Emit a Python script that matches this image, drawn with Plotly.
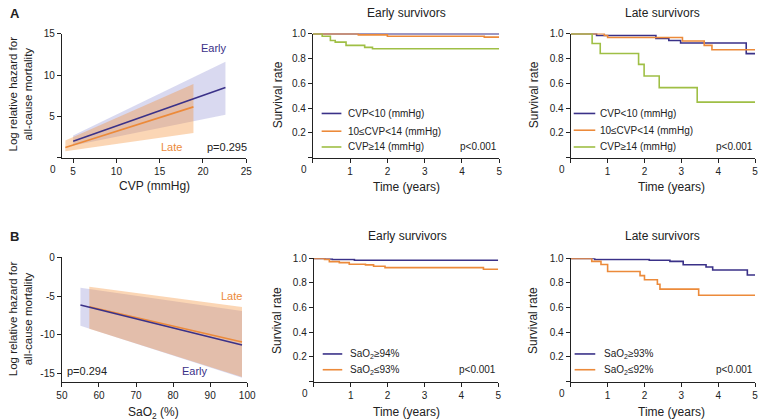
import plotly.graph_objects as go

# ---------------- data ----------------
# Panel A left: log relative hazard vs CVP (linear fit + CI band)
cvp_early_x = [5.0, 22.6]
cvp_early_fit = [2.0, 8.5]
cvp_early_lo = [1.5, 5.2]
cvp_early_hi = [2.7, 11.6]
cvp_late_x = [4.1, 18.9]
cvp_late_fit = [1.25, 6.15]
cvp_late_lo = [0.8, 3.0]
cvp_late_hi = [2.1, 8.9]

# Panel B left: log relative hazard vs SaO2
sao_early_x = [55.0, 98.6]
sao_early_fit = [-6.15, -11.3]
sao_early_lo = [-8.8, -15.5]
sao_early_hi = [-3.9, -6.9]
sao_late_x = [57.4, 98.6]
sao_late_fit = [-6.36, -10.9]
sao_late_lo = [-9.2, -15.4]
sao_late_hi = [-3.8, -6.4]

# Panel A middle: early survivors by CVP
a_early_lt10_t = [0, 5]
a_early_lt10_s = [1.0, 1.0]
a_early_mid_t = [0, 1.22, 2.0, 4.6, 5]
a_early_mid_s = [1.0, 0.99, 0.979, 0.972, 0.972]
a_early_ge14_t = [0, 0.25, 0.47, 0.6, 0.89, 1.39, 1.6, 5]
a_early_ge14_s = [1.0, 0.979, 0.944, 0.931, 0.905, 0.889, 0.878, 0.878]

# Panel A right: late survivors by CVP
a_late_lt10_t = [0, 0.7, 2.31, 2.66, 2.98, 4.76, 5]
a_late_lt10_s = [1.0, 0.985, 0.96, 0.944, 0.924, 0.839, 0.839]
a_late_mid_t = [0, 0.91, 1.0, 3.03, 3.62, 3.83, 5]
a_late_mid_s = [1.0, 0.985, 0.968, 0.94, 0.905, 0.87, 0.87]
a_late_ge14_t = [0, 0.58, 0.8, 1.84, 1.99, 2.4, 3.43, 5]
a_late_ge14_s = [1.0, 0.92, 0.84, 0.752, 0.659, 0.565, 0.448, 0.448]

# Panel B middle: early survivors by SaO2
b_early_hi_t = [0, 0.3, 0.5, 1.1, 5]
b_early_hi_s = [1.0, 0.995, 0.99, 0.984, 0.984]
b_early_lo_t = [0, 0.29, 0.42, 0.69, 0.96, 1.4, 1.62, 1.93, 4.6, 5]
b_early_lo_s = [1.0, 0.992, 0.973, 0.965, 0.952, 0.947, 0.936, 0.925, 0.912, 0.912]

# Panel B right: late survivors by SaO2
b_late_hi_t = [0, 0.65, 2.13, 2.69, 3.05, 3.67, 3.85, 4.79, 5]
b_late_hi_s = [1.0, 0.99, 0.985, 0.975, 0.948, 0.93, 0.905, 0.865, 0.865]
b_late_lo_t = [0, 0.57, 0.82, 1.0, 1.88, 2.0, 2.35, 2.42, 3.47, 5]
b_late_lo_s = [1.0, 0.975, 0.95, 0.893, 0.86, 0.826, 0.79, 0.75, 0.70, 0.70]

cvp_legend = ["CVP&lt;10 (mmHg)", "10≤CVP&lt;14 (mmHg)", "CVP≥14 (mmHg)"]
sao_early_legend = ["SaO<sub>2</sub>≥94%", "SaO<sub>2</sub>≤93%"]
sao_late_legend = ["SaO<sub>2</sub>≥93%", "SaO<sub>2</sub>≤92%"]
p_values = ["p=0.295", "p&lt;0.001", "p&lt;0.001", "p=0.294", "p&lt;0.001", "p&lt;0.001"]

# ---------------- styles ----------------
NAVY = "#3a3188"
ORANGE = "#ec8a3a"
GREEN = "#9fbf45"
EARLY_FILL = "rgba(140,140,210,0.33)"
LATE_FILL = "rgba(245,140,50,0.36)"
FONT = "Liberation Sans, Arial, sans-serif"
TXT = "#222222"
W, H = 768, 420


def px(x):
    return x / W


def py(y):
    return 1 - y / H


fig = go.Figure()

# domains (pixels)
dom = {
    1: ((57, 245), (28, 154)),
    2: ((313, 503), (28, 154)),
    3: ((576, 764), (28, 154)),
    4: ((57, 246), (255, 381)),
    5: ((314, 502), (256, 381)),
    6: ((576, 764), (256, 381)),
}


def band(n, xs, lo, hi, fill):
    ax = "" if n == 1 else str(n)
    fig.add_trace(go.Scatter(
        x=list(xs) + list(xs)[::-1], y=list(hi) + list(lo)[::-1],
        fill="toself", fillcolor=fill, line=dict(width=0),
        mode="lines", hoverinfo="skip", showlegend=False,
        xaxis="x" + ax, yaxis="y" + ax))


def line(n, xs, ys, color, shape="linear", width=1.6):
    ax = "" if n == 1 else str(n)
    fig.add_trace(go.Scatter(
        x=xs, y=ys, mode="lines", line=dict(color=color, width=width, shape=shape),
        cliponaxis=False, showlegend=False, xaxis="x" + ax, yaxis="y" + ax))


# Panel A left
band(1, cvp_early_x, cvp_early_lo, cvp_early_hi, EARLY_FILL)
band(1, cvp_late_x, cvp_late_lo, cvp_late_hi, LATE_FILL)
line(1, cvp_early_x, cvp_early_fit, NAVY)
line(1, cvp_late_x, cvp_late_fit, ORANGE)

# Panel A middle
line(2, a_early_lt10_t, a_early_lt10_s, NAVY, "hv")
line(2, a_early_mid_t, a_early_mid_s, ORANGE, "hv")
line(2, a_early_ge14_t, a_early_ge14_s, GREEN, "hv")

# Panel A right
line(3, a_late_lt10_t, a_late_lt10_s, NAVY, "hv")
line(3, a_late_mid_t, a_late_mid_s, ORANGE, "hv")
line(3, a_late_ge14_t, a_late_ge14_s, GREEN, "hv")

# Panel B left
band(4, sao_early_x, sao_early_lo, sao_early_hi, EARLY_FILL)
band(4, sao_late_x, sao_late_lo, sao_late_hi, LATE_FILL)
line(4, sao_late_x, sao_late_fit, ORANGE)
line(4, sao_early_x, sao_early_fit, NAVY)

# Panel B middle
line(5, b_early_hi_t, b_early_hi_s, NAVY, "hv")
line(5, b_early_lo_t, b_early_lo_s, ORANGE, "hv")

# Panel B right
line(6, b_late_hi_t, b_late_hi_s, NAVY, "hv")
line(6, b_late_lo_t, b_late_lo_s, ORANGE, "hv")

axis_common = dict(showline=True, linecolor=TXT, linewidth=1.2, ticks="outside",
                   ticklen=4, tickwidth=1.1, tickcolor=TXT, showgrid=False,
                   zeroline=False, tickfont=dict(size=10, color=TXT, family=FONT),
                   fixedrange=True)
zero_tick = dict(tickmode="array", tickvals=[0], ticks="outside", ticklen=4,
                 tickwidth=1.1, tickcolor=TXT, showgrid=False)

layout = {}
# (x range, x ticks, x has zero tick mark, y range, y ticks, y has zero tick mark)
ranges = {
    1: ([3.7, 25], [5, 10, 15, 20, 25], False, [0, 15], [5, 10, 15], True),
    2: ([0, 5], [1, 2, 3, 4, 5], True, [0, 1], [0.2, 0.4, 0.6, 0.8, 1.0], True),
    4: ([50, 100], [50, 60, 70, 80, 90, 100], False, [-16, 0], [-15, -10, -5, 0], False),
}
ranges[3] = ranges[2]
ranges[5] = ranges[2]
ranges[6] = ranges[2]

for n in range(1, 7):
    (x0, x1), (y0, y1) = dom[n]
    xr, xtv, xz, yr, ytv, yz = ranges[n]
    ax = "" if n == 1 else str(n)
    xa = dict(axis_common, domain=[px(x0), px(x1)], range=xr, tickvals=xtv,
              ticktext=[("%.1f" % v) if isinstance(v, float) else str(v) for v in xtv],
              anchor="y" + ax)
    ya = dict(axis_common, domain=[py(y1), py(y0)], range=yr, tickvals=ytv,
              ticktext=[("%.1f" % v) if isinstance(v, float) else str(v) for v in ytv],
              anchor="x" + ax)
    if xz:
        xa["minor"] = zero_tick
    if yz:
        ya["minor"] = zero_tick
    layout["xaxis" + ax] = xa
    layout["yaxis" + ax] = ya

ann = []


def text(x, y, s, size=11, color=TXT, xanchor="center", yanchor="middle", angle=0,
         xref="paper", yref="paper", bold=False):
    if bold:
        s = "<b>" + s + "</b>"
    ann.append(dict(x=x, y=y, text=s, xref=xref, yref=yref, showarrow=False,
                    xanchor=xanchor, yanchor=yanchor, textangle=angle,
                    font=dict(size=size, color=color, family=FONT)))


# panel letters
text(px(2), py(8), "A", size=13, xanchor="left", bold=True)
text(px(2), py(234), "B", size=13, xanchor="left", bold=True)

# titles
text(px(408), py(7), "Early survivors", size=12)
text(px(670), py(7), "Late survivors", size=12)
text(px(409), py(233), "Early survivors", size=12)
text(px(670), py(233), "Late survivors", size=12)

# x-axis titles
text(px(151), py(183), "CVP (mmHg)", size=12)
text(px(408), py(184), "Time (years)", size=12)
text(px(679), py(184), "Time (years)", size=12)
text(px(150), py(413), "SaO<sub>2</sub> (%)", size=12)
text(px(408), py(412), "Time (years)", size=12)
text(px(679), py(412), "Time (years)", size=12)

# y-axis titles
text(px(15), py(89), "Log relative hazard for<br>all-cause mortality", size=11.5, angle=-90)
text(px(15), py(317), "Log relative hazard for<br>all-cause mortality", size=11.5, angle=-90)
text(px(277), py(90), "Survival rate", size=12, angle=-90)
text(px(538), py(90), "Survival rate", size=12, angle=-90)
text(px(277), py(319), "Survival rate", size=12, angle=-90)
text(px(538), py(319), "Survival rate", size=12, angle=-90)

# corner zeros
text(px(48), py(166), "0", size=10)
text(px(304), py(166), "0", size=10)
text(px(567), py(166), "0", size=10)
text(px(305), py(393), "0", size=10)
text(px(567), py(393), "0", size=10)

# panel-A left annotations
text(21.25, 13.2, "Early", size=11, color=NAVY, xref="x", yref="y")
text(16.4, 1.3, "Late", size=11, color=ORANGE, xref="x", yref="y")
text(22.8, 1.3, p_values[0], size=11, xref="x", yref="y")
# panel-B left annotations
text(95.8, -4.96, "Late", size=11, color=ORANGE, xref="x4", yref="y4")
text(86.0, -14.6, "Early", size=11, color=NAVY, xref="x4", yref="y4")
text(56.9, -14.6, p_values[3], size=11, xref="x4", yref="y4")

shapes = []


def legend(n, labels, colors, sx0, sx1, tx, rows):
    ax = str(n)
    for lab, col, ry in zip(labels, colors, rows):
        shapes.append(dict(type="line", xref="x%s domain" % ax, yref="y%s domain" % ax,
                           x0=sx0, x1=sx1, y0=ry, y1=ry,
                           line=dict(color=col, width=1.6)))
        text(tx, ry, lab, size=10, xanchor="left", xref="x%s domain" % ax,
             yref="y%s domain" % ax)


legend(2, cvp_legend, [NAVY, ORANGE, GREEN], 0.047, 0.153, 0.18, [0.357, 0.214, 0.087])
legend(3, cvp_legend, [NAVY, ORANGE, GREEN], 0.016, 0.133, 0.15, [0.357, 0.222, 0.087])
legend(5, sao_early_legend, [NAVY, ORANGE], 0.048, 0.154, 0.185, [0.224, 0.096])
legend(6, sao_late_legend, [NAVY, ORANGE], 0.021, 0.133, 0.17, [0.224, 0.096])

text(1.0, 0.087, p_values[1], size=10, xanchor="right", xref="x2 domain", yref="y2 domain")
text(1.0, 0.087, p_values[2], size=10, xanchor="right", xref="x3 domain", yref="y3 domain")
text(1.0, 0.096, p_values[4], size=10, xanchor="right", xref="x5 domain", yref="y5 domain")
text(1.0, 0.096, p_values[5], size=10, xanchor="right", xref="x6 domain", yref="y6 domain")

fig.update_layout(
    width=W, height=H, margin=dict(l=0, r=0, t=0, b=0),
    paper_bgcolor="white", plot_bgcolor="white",
    font=dict(family=FONT, color=TXT),
    showlegend=False, annotations=ann, shapes=shapes, **layout)

fig.write_html(
    "out.html",
    config={"displayModeBar": False},
    post_script="document.body.style.margin='0';document.body.style.overflow='hidden';",
)
